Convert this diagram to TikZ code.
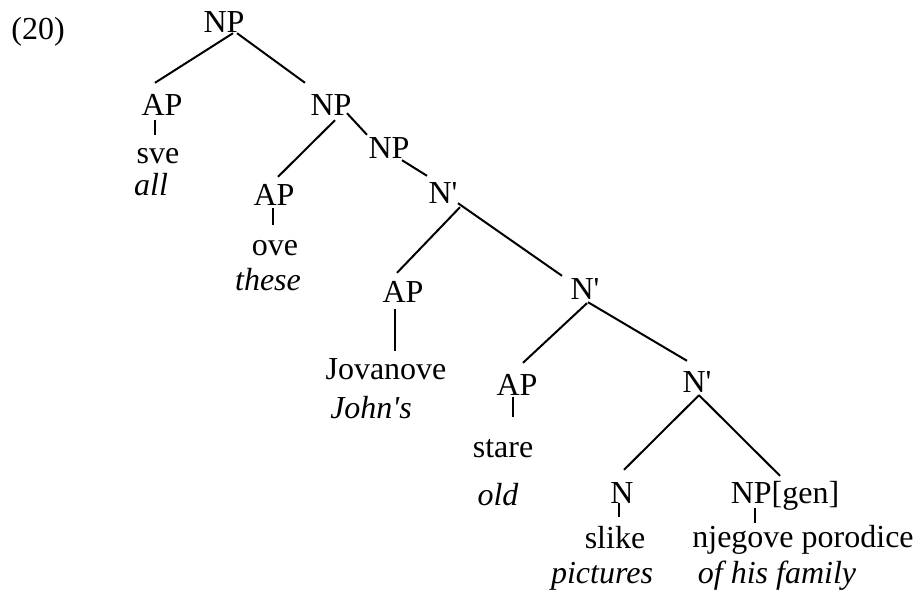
\documentclass[tikz,border=0pt]{standalone}
\usepackage{fontspec}
\setmainfont{Liberation Serif}
\usetikzlibrary{positioning, calc}

\begin{document}
\begin{tikzpicture}[
    x=1pt, y=-1pt,
    lbl/.style={inner sep=0pt, anchor=base, text height=20pt, text depth=0pt, font=\fontsize{32}{38}\selectfont},
    gloss/.style={lbl, font=\fontsize{32}{38}\selectfont\itshape},
    branch/.style={line width=2pt},
]
\useasboundingbox (0,0) rectangle (917,597);

% Example number
\node[lbl] (ex) at (38,39) {(20)};

% Upper NPs
\node[lbl] (np1) at (224,32) {NP};
\node[lbl] (ap1) at (162,115) {AP};
\node[lbl] (sve) at (158,163) {sve};
\node[gloss] (all) at (151,195) {all};
\draw[branch] ($(np1.south)+(9,1)$) -- ($(ap1.north)+(-7,-12)$);
\draw[branch] ($(ap1.south)+(-7,5)$) -- ($(sve.north)+(-3,-8)$);

\node[lbl] (np2) at (331,115) {NP};
\draw[branch] ($(np1.south)+(13,1)$) -- ($(np2.north)+(-26,-12)$);
\node[lbl] (ap2) at (274,205) {AP};
\node[lbl] (ove) at (275,255) {ove};
\node[gloss] (these) at (268,290) {these};
\draw[branch] ($(np2.south)+(4,5)$) -- ($(ap2.north)+(4,-8)$);
\draw[branch] ($(ap2.south)+(-1,3)$) -- ($(ove.north)+(-2,-10)$);

\node[lbl] (np3) at (389,158) {NP};
\draw[branch] ($(np2.south)+(16,-2)$) -- ($(np3.north)+(-22,-3)$);

% N-bar spine
\node[lbl] (nb1) at (443,203) {N\textquotesingle};
\draw[branch] ($(np3.south)+(13,2)$) -- ($(nb1.north)+(-16,-7)$);
\node[lbl] (ap3) at (403,302) {AP};
\node[lbl] (jov) at (386,379) {Jovanove};
\node[gloss] (johns) at (371,418) {John\textquotesingle s};
\draw[branch] ($(nb1.south)+(17,4)$) -- ($(ap3.north)+(-6,-9)$);
\draw[branch] ($(ap3.south)+(-8,7)$) -- ($(jov.north)+(9,-8)$);

\node[lbl] (nb2) at (585,299) {N\textquotesingle};
\draw[branch] ($(nb1.south)+(15,0)$) -- ($(nb2.north)+(-23,-3)$);
\node[lbl] (ap4) at (517,395) {AP};
\node[lbl] (stare) at (503,457) {stare};
\node[gloss] (old) at (498,505) {old};
\draw[branch] ($(nb2.south)+(2,4)$) -- ($(ap4.north)+(6,-12)$);
\draw[branch] ($(ap4.south)+(-4,2)$) -- ($(stare.north)+(10,-20)$);

\node[lbl] (nb3) at (697,392) {N\textquotesingle};
\draw[branch] ($(nb2.south)+(3,3)$) -- ($(nb3.north)+(-10,-11)$);

% Head and complement
\node[lbl] (n) at (622,503) {N};
\node[lbl] (slike) at (615,548) {slike};
\node[gloss] (pics) at (602,583) {pictures};
\draw[branch] ($(nb3.south)+(2,3)$) -- ($(n.north)+(2,-13)$);
\draw[branch] ($(n.south)+(-3,0)$) -- ($(slike.north)+(4,-11)$);

\node[lbl] (npgen) at (785,503) {NP[gen]};
\node[lbl] (porod) at (803,547) {njegove porodice};
\node[gloss] (family) at (777,583) {of his family};
\draw[branch] ($(nb3.south)+(2,3)$) -- ($(npgen.north)+(-5,-7)$);
\draw[branch] ($(npgen.south)+(-30,5)$) -- ($(porod.north)+(-48,-4)$);

\end{tikzpicture}
\end{document}
